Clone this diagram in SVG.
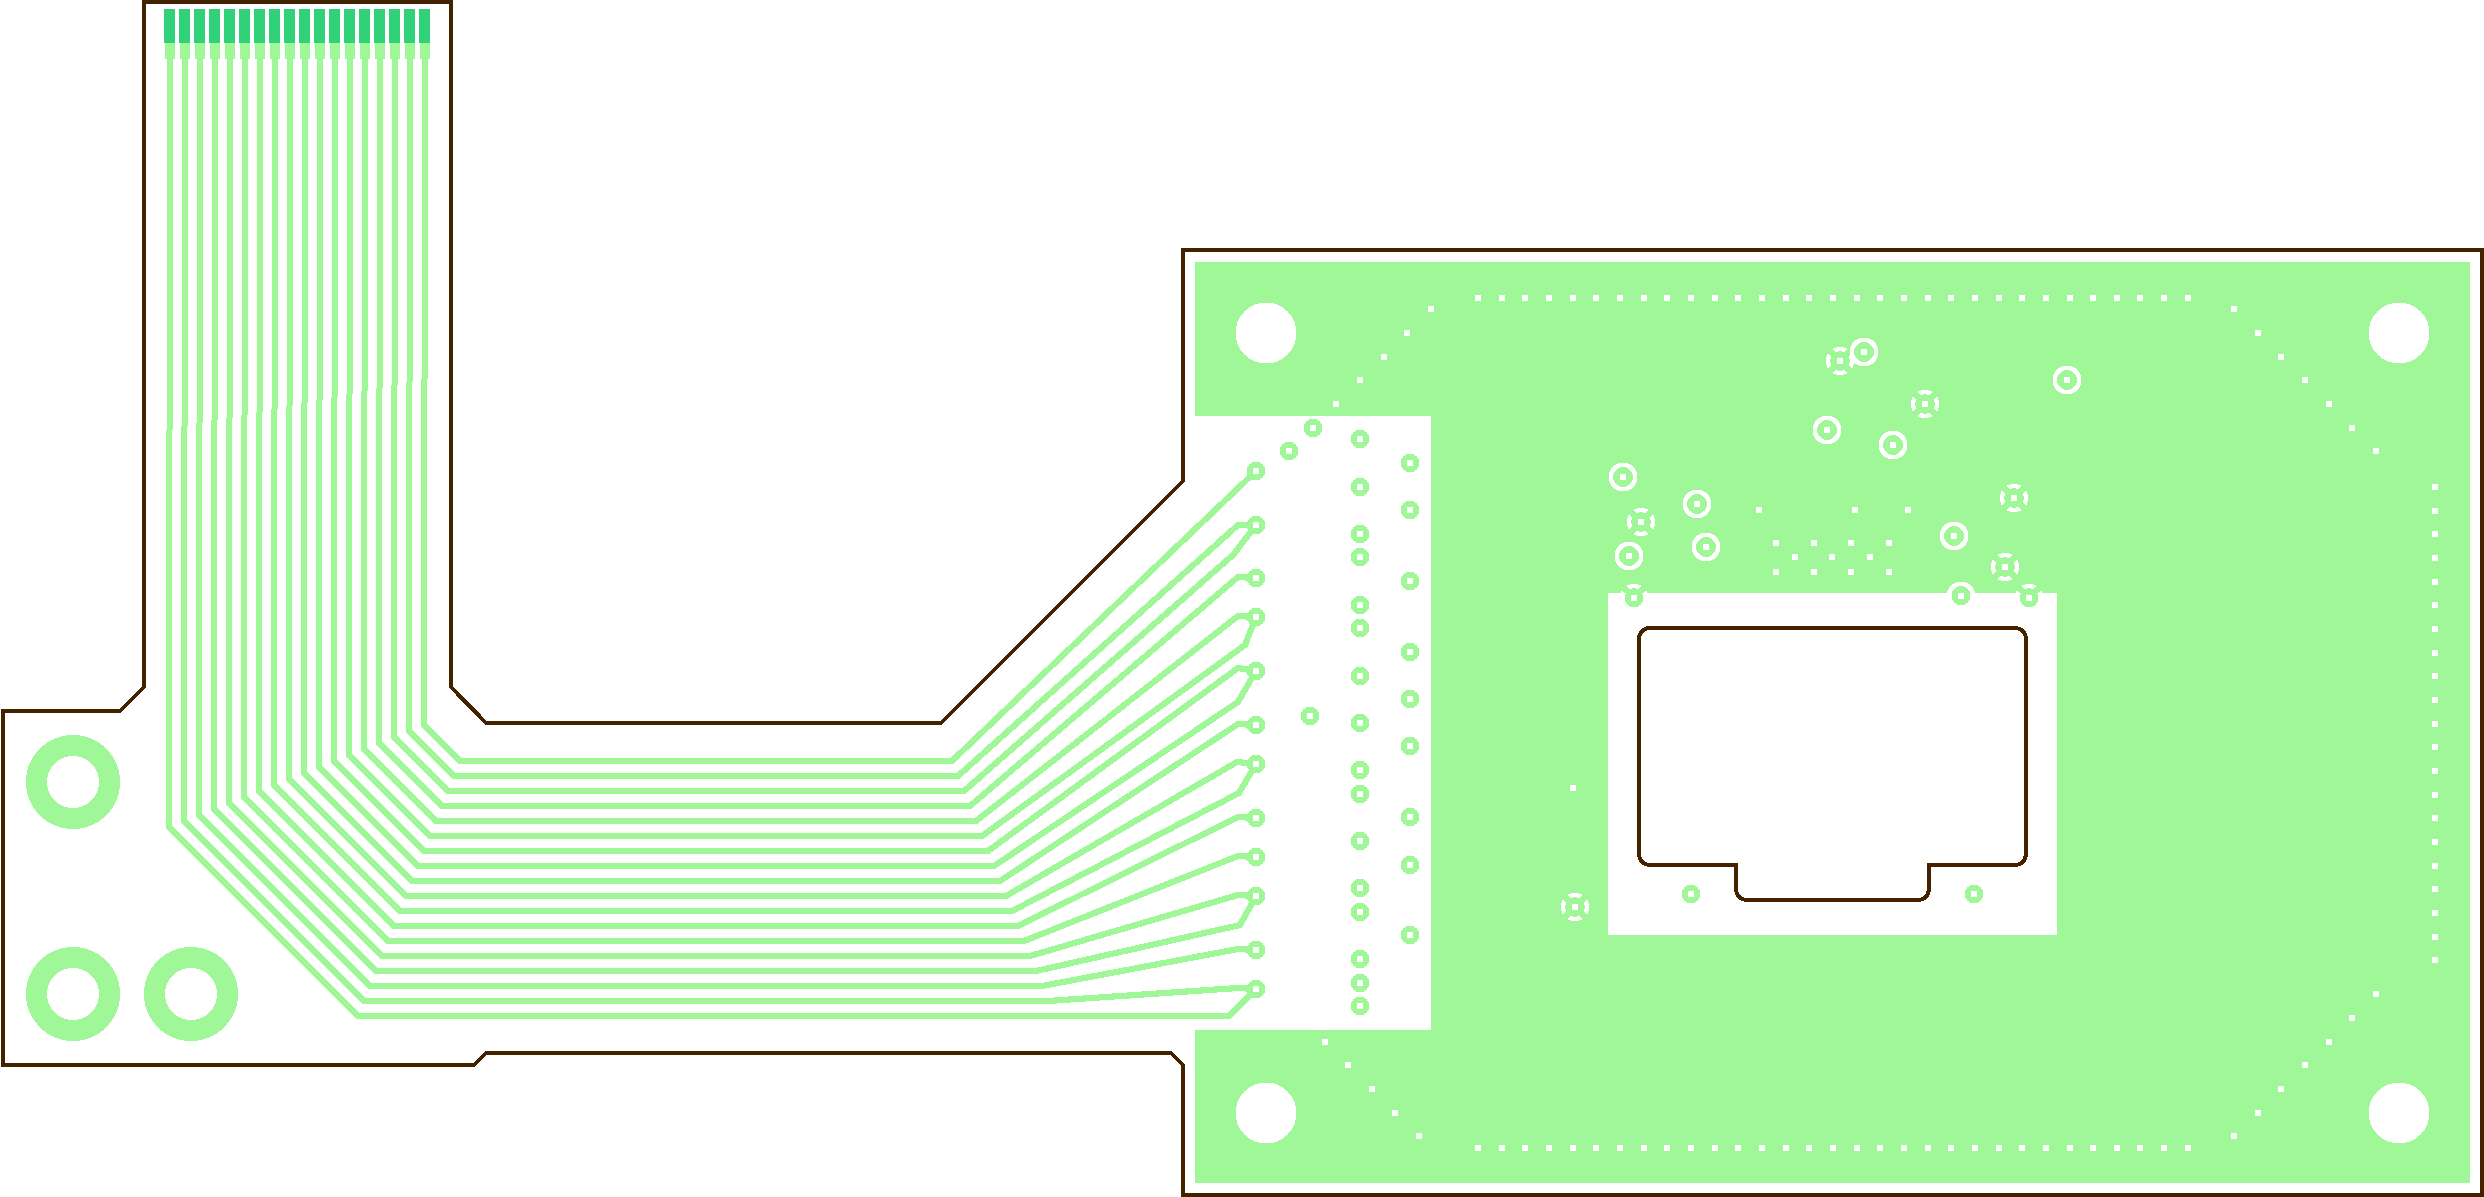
<svg xmlns="http://www.w3.org/2000/svg" xmlns:xlink="http://www.w3.org/1999/xlink" width="2484" height="1197" viewBox="0 0 2484 1197" shape-rendering="crispEdges">
<style>
.cu{fill:#a0f797}
.tr{fill:none;stroke:#a0f797;stroke-width:6.2;stroke-linejoin:round}
.ol{fill:none;stroke:#442200;stroke-width:4;stroke-linejoin:miter}
.w{fill:#fff}
.ring{fill:none;stroke:#fff;stroke-width:4.4}
.mh{fill:none;stroke:#a0f797;stroke-width:21}
.gold{fill:#30d178}
</style>
<defs>
<rect id="d" class="w" x="-3" y="-3" width="6" height="6"/>
<g id="pad"><circle class="cu" r="9.4"/><rect class="w" x="-3" y="-3" width="6" height="6"/></g>
<g id="ar"><circle class="ring" r="12.2"/><rect class="w" x="-3" y="-3" width="6" height="6"/></g>
<g id="th"><circle class="ring" r="12" pathLength="360" stroke-dasharray="60 30" stroke-dashoffset="30"/><rect class="w" x="-3" y="-3" width="6" height="6"/></g>
<g id="fin"><rect class="gold" x="-6" y="9" width="11" height="34"/><rect class="cu" x="-5" y="43" width="10" height="15.5"/></g>
<path id="row" class="w" d="M1475 295h6v6h-6zM1499 295h6v6h-6zM1522 295h6v6h-6zM1546 295h6v6h-6zM1570 295h6v6h-6zM1593 295h6v6h-6zM1617 295h6v6h-6zM1641 295h6v6h-6zM1664 295h6v6h-6zM1688 295h6v6h-6zM1712 295h6v6h-6zM1735 295h6v6h-6zM1759 295h6v6h-6zM1783 295h6v6h-6zM1806 295h6v6h-6zM1830 295h6v6h-6zM1854 295h6v6h-6zM1877 295h6v6h-6zM1901 295h6v6h-6zM1925 295h6v6h-6zM1948 295h6v6h-6zM1972 295h6v6h-6zM1996 295h6v6h-6zM2019 295h6v6h-6zM2043 295h6v6h-6zM2067 295h6v6h-6zM2090 295h6v6h-6zM2114 295h6v6h-6zM2137 295h6v6h-6zM2161 295h6v6h-6zM2185 295h6v6h-6z"/>
</defs>
<rect width="2484" height="1197" fill="#fff"/>
<g id="copper">
<path class="cu" fill-rule="evenodd" d="M1195 262H2470V1183H1195V1030H1431V416H1195ZM1608 593V935H2057V593Z"/>
<circle class="w" cx="1266" cy="333" r="30.5"/>
<circle class="w" cx="2399" cy="333" r="30.5"/>
<circle class="w" cx="1266" cy="1113" r="30.5"/>
<circle class="w" cx="2399" cy="1113" r="30.5"/>
</g>
<g id="stitching">
<use href="#row"/>
<use href="#row" y="850"/>
<use href="#d" x="1431" y="309"/><use href="#d" x="1407" y="333"/><use href="#d" x="1384" y="357"/><use href="#d" x="1360" y="380"/><use href="#d" x="1336" y="404"/>
<use href="#d" x="2234" y="309"/><use href="#d" x="2258" y="333"/><use href="#d" x="2281" y="357"/><use href="#d" x="2305" y="380"/><use href="#d" x="2329" y="404"/><use href="#d" x="2352" y="428"/><use href="#d" x="2376" y="451"/>
<use href="#d" x="2376" y="994"/><use href="#d" x="2352" y="1018"/><use href="#d" x="2329" y="1042"/><use href="#d" x="2305" y="1065"/><use href="#d" x="2281" y="1089"/><use href="#d" x="2258" y="1113"/><use href="#d" x="2234" y="1136"/>
<use href="#d" x="1325" y="1042"/><use href="#d" x="1348" y="1065"/><use href="#d" x="1372" y="1089"/><use href="#d" x="1395" y="1113"/><use href="#d" x="1419" y="1136"/>
<use href="#d" x="2435" y="487"/><use href="#d" x="2435" y="511"/><use href="#d" x="2435" y="534"/><use href="#d" x="2435" y="558"/><use href="#d" x="2435" y="582"/><use href="#d" x="2435" y="605"/><use href="#d" x="2435" y="629"/><use href="#d" x="2435" y="653"/><use href="#d" x="2435" y="676"/><use href="#d" x="2435" y="700"/><use href="#d" x="2435" y="724"/><use href="#d" x="2435" y="747"/><use href="#d" x="2435" y="771"/><use href="#d" x="2435" y="795"/><use href="#d" x="2435" y="818"/><use href="#d" x="2435" y="842"/><use href="#d" x="2435" y="866"/><use href="#d" x="2435" y="889"/><use href="#d" x="2435" y="913"/><use href="#d" x="2435" y="937"/><use href="#d" x="2435" y="960"/>
<use href="#d" x="1573" y="788"/>
<use href="#d" x="1759" y="510"/><use href="#d" x="1855" y="510"/><use href="#d" x="1908" y="510"/>
<use href="#d" x="1776" y="543"/><use href="#d" x="1814" y="543"/><use href="#d" x="1851" y="543"/><use href="#d" x="1889" y="543"/>
<use href="#d" x="1795" y="557"/><use href="#d" x="1832" y="557"/><use href="#d" x="1870" y="557"/>
<use href="#d" x="1776" y="572"/><use href="#d" x="1814" y="572"/><use href="#d" x="1851" y="572"/><use href="#d" x="1889" y="572"/>
</g>
<g id="antipads">
<use href="#ar" x="1864" y="352"/><use href="#ar" x="2067" y="380"/><use href="#ar" x="1827" y="430"/><use href="#ar" x="1893" y="445"/><use href="#ar" x="1623" y="477"/><use href="#ar" x="1697" y="504"/><use href="#ar" x="1706" y="547"/><use href="#ar" x="1629" y="556"/><use href="#ar" x="1954" y="536"/><use href="#ar" x="1961" y="596"/>
<use href="#th" x="1840" y="361"/><use href="#th" x="1925" y="404"/><use href="#th" x="1641" y="522"/><use href="#th" x="2014" y="498"/><use href="#th" x="2005" y="567"/><use href="#th" x="1634" y="598"/><use href="#th" x="2029" y="598"/><use href="#th" x="1575" y="907"/>
</g>
<g id="connectors">
<path class="tr" d="M170 58V430M169 430V827L358 1016H1229L1256 989"/>
<path class="tr" d="M185 58V426M184 426V821L364 1001H1048L1238 988L1256 989"/>
<path class="tr" d="M200 58V423M199 423V815L370 986H1042L1238 949L1256 950"/>
<path class="tr" d="M215 58V420M214 420V809L376 971H1036L1240 925L1256 896"/>
<path class="tr" d="M230 58V418M229 418V803L382 956H1030L1238 895L1256 896"/>
<path class="tr" d="M245 58V415M244 415V797L388 941H1024L1238 856L1256 857"/>
<path class="tr" d="M260 58V412M259 412V791L394 926H1018L1238 817L1256 818"/>
<path class="tr" d="M275 58V409M274 409V785L400 911H1012L1239 793L1256 764"/>
<path class="tr" d="M290 58V406M289 406V779L406 896H1006L1237 762L1256 764"/>
<path class="tr" d="M305 58V403M304 403V773L412 881H1000L1238 724L1256 725"/>
<path class="tr" d="M320 58V400M319 400V767L418 866H994L1238 702L1256 671"/>
<path class="tr" d="M335 58V397M334 397V761L424 851H988L1238 668L1256 671"/>
<path class="tr" d="M350 58V394M349 394V755L430 836H982L1245 645L1256 617"/>
<path class="tr" d="M365 58V391M364 391V749L436 821H976L1238 616L1256 617"/>
<path class="tr" d="M380 58V388M379 388V743L442 806H970L1238 577L1256 578"/>
<path class="tr" d="M395 58V385M394 385V737L448 791H964L1233 555L1256 525"/>
<path class="tr" d="M410 58V382M409 382V731L454 776H958L1238 525L1256 525"/>
<path class="tr" d="M425 58V379M424 379V725L460 761H952L1256 471"/>
</g>
<g id="connector-fingers">
<use href="#fin" x="170"/><use href="#fin" x="185"/><use href="#fin" x="200"/><use href="#fin" x="215"/><use href="#fin" x="230"/><use href="#fin" x="245"/><use href="#fin" x="260"/><use href="#fin" x="275"/><use href="#fin" x="290"/><use href="#fin" x="305"/><use href="#fin" x="320"/><use href="#fin" x="335"/><use href="#fin" x="350"/><use href="#fin" x="365"/><use href="#fin" x="380"/><use href="#fin" x="395"/><use href="#fin" x="410"/><use href="#fin" x="425"/>
</g>
<g id="mount-pads">
<circle class="mh" cx="73" cy="782" r="36.5"/>
<circle class="mh" cx="73" cy="994" r="36.5"/>
<circle class="mh" cx="191" cy="994" r="36.5"/>
</g>
<g id="pads">
<use href="#pad" x="1256" y="471"/><use href="#pad" x="1256" y="525"/><use href="#pad" x="1256" y="578"/><use href="#pad" x="1256" y="617"/><use href="#pad" x="1256" y="671"/><use href="#pad" x="1256" y="725"/><use href="#pad" x="1256" y="764"/><use href="#pad" x="1256" y="818"/><use href="#pad" x="1256" y="857"/><use href="#pad" x="1256" y="896"/><use href="#pad" x="1256" y="950"/><use href="#pad" x="1256" y="989"/>
<use href="#pad" x="1313" y="428"/><use href="#pad" x="1289" y="451"/><use href="#pad" x="1310" y="716"/>
<use href="#pad" x="1360" y="439"/><use href="#pad" x="1360" y="487"/><use href="#pad" x="1360" y="534"/><use href="#pad" x="1360" y="557"/><use href="#pad" x="1360" y="605"/><use href="#pad" x="1360" y="628"/><use href="#pad" x="1360" y="676"/><use href="#pad" x="1360" y="723"/><use href="#pad" x="1360" y="770"/><use href="#pad" x="1360" y="794"/><use href="#pad" x="1360" y="841"/><use href="#pad" x="1360" y="888"/><use href="#pad" x="1360" y="912"/><use href="#pad" x="1360" y="959"/><use href="#pad" x="1360" y="983"/><use href="#pad" x="1360" y="1006"/>
<use href="#pad" x="1410" y="463"/><use href="#pad" x="1410" y="510"/><use href="#pad" x="1410" y="581"/><use href="#pad" x="1410" y="652"/><use href="#pad" x="1410" y="699"/><use href="#pad" x="1410" y="746"/><use href="#pad" x="1410" y="817"/><use href="#pad" x="1410" y="865"/><use href="#pad" x="1410" y="935"/>
<use href="#pad" x="1634" y="598"/><use href="#pad" x="1961" y="596"/><use href="#pad" x="2029" y="598"/><use href="#pad" x="1691" y="894"/><use href="#pad" x="1974" y="894"/>
</g>
<g id="board-outline">
<path class="ol" d="M3 711H120L144 687V2H451V687L486 723H941L1183 481V250H2482V1195H1183V1065L1171 1053H486L474 1065H3Z"/>
<path class="ol" d="M1650 628H2015A11 11 0 0 1 2026 639V854A11 11 0 0 1 2015 865H1929V889A11 11 0 0 1 1918 900H1747A11 11 0 0 1 1736 889V865H1650A11 11 0 0 1 1639 854V639A11 11 0 0 1 1650 628Z"/>
</g>
</svg>
